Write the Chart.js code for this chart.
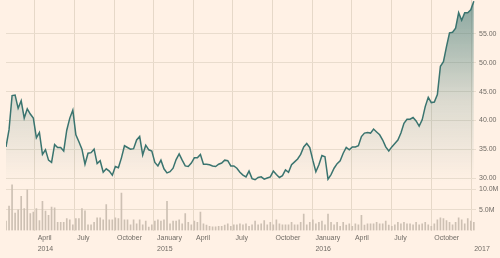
<!DOCTYPE html>
<html>
<head>
<meta charset="utf-8">
<script src="https://cdn.jsdelivr.net/npm/chart.js@4.4.1/dist/chart.umd.min.js"></script>
<style>
  html, body { margin: 0; padding: 0; background: #fff1e5; }
  canvas { display: block; }
</style>
</head>
<body>
<canvas id="chart" width="500" height="258"></canvas>
<script>
// weekly closing price, first week 25 Jan 2014
const firstWeek = Date.UTC(2014, 0, 25);
const prices = [
  35.4, 38.4, 44.3, 44.4, 42.1, 43.4, 40.4, 42.0, 41.1, 40.4,
  37.0, 37.9, 34.1, 34.9, 33.1, 32.7, 35.8, 35.3, 35.3, 34.7,
  38.3, 40.4, 41.8, 37.5, 36.3, 35.0, 32.4, 34.3, 34.4, 35.0,
  32.5, 33.0, 31.0, 31.6, 31.2, 30.5, 32.0, 31.8, 33.5, 35.6,
  35.3, 35.0, 35.1, 36.6, 37.2, 34.0, 35.7, 34.9, 34.7, 32.7,
  32.1, 33.1, 31.6, 30.9, 31.1, 31.7, 33.2, 34.2, 33.1, 32.1,
  32.0, 32.6, 33.5, 33.5, 34.1, 32.4, 32.4, 32.3, 32.1, 32.0,
  32.4, 32.6, 33.1, 33.0, 32.1, 32.1, 31.7, 31.0, 30.5, 30.2,
  31.2, 29.9, 29.7, 30.1, 30.2, 29.8, 30.0, 30.2, 31.2, 30.6,
  30.1, 30.4, 31.4, 31.0, 32.3, 32.8, 33.3, 34.1, 35.4, 36.0,
  35.3, 33.1, 31.1, 32.3, 33.9, 33.7, 29.8, 30.6, 31.7, 32.5,
  33.0, 34.3, 35.3, 34.9, 35.4, 35.4, 35.6, 37.2, 37.8, 37.9,
  37.8, 38.5, 38.0, 37.5, 36.6, 35.4, 34.7, 35.4, 36.0, 36.6,
  37.8, 39.5, 40.2, 40.2, 40.5, 39.9, 39.0, 40.1, 42.4, 44.0,
  43.1, 43.2, 44.5, 49.4, 50.2, 52.8, 55.2, 55.3, 56.0, 58.7,
  57.4, 58.7, 58.7, 59.2, 60.7
];
// weekly volume, millions
const volumes = [
  2.3, 5.9, 11.1, 4.2, 5.0, 8.3, 5.3, 9.9, 4.1, 4.5,
  5.3, 2.4, 7.1, 4.7, 3.7, 5.7, 5.5, 2.0, 2.0, 2.0,
  2.9, 2.6, 1.4, 2.9, 2.9, 5.3, 4.8, 1.4, 1.4, 2.0,
  3.1, 3.1, 2.6, 6.3, 2.6, 2.6, 3.1, 2.9, 9.1, 2.6,
  2.6, 1.4, 2.6, 1.6, 2.6, 1.4, 2.3, 0.8, 1.4, 2.3,
  2.6, 2.3, 2.6, 7.1, 1.6, 2.3, 2.3, 2.6, 1.6, 4.1,
  2.0, 1.4, 2.3, 2.0, 4.5, 1.6, 1.3, 1.0, 0.9, 0.9,
  1.0, 1.0, 1.3, 1.6, 1.0, 1.4, 1.4, 1.6, 1.4, 1.6,
  1.0, 1.4, 2.3, 1.4, 1.6, 2.4, 1.4, 2.0, 1.4, 2.6,
  1.6, 1.4, 1.4, 1.4, 2.0, 1.4, 1.4, 2.0, 4.0, 1.4,
  2.0, 2.6, 1.6, 2.0, 2.3, 1.4, 4.0, 2.0, 1.4, 2.0,
  1.0, 2.0, 1.3, 1.6, 1.0, 1.6, 1.4, 3.7, 1.3, 1.6,
  1.6, 1.6, 2.0, 1.6, 1.6, 2.3, 1.3, 1.0, 1.4, 2.0,
  1.6, 2.0, 1.6, 1.6, 1.4, 2.0, 1.4, 1.6, 2.0, 1.4,
  1.0, 1.6, 2.6, 3.1, 2.9, 2.4, 2.0, 1.4, 2.0, 3.1,
  2.6, 1.6, 2.9, 2.3, 2.0
];
const priceTicks = [30, 35, 40, 45, 50, 55];
const volumeTicks = [5, 10];
const monthNames = ['January', 'February', 'March', 'April', 'May', 'June',
  'July', 'August', 'September', 'October', 'November', 'December'];

const DAY = 86400000;
const xMin = firstWeek;
const xMax = firstWeek + 1083 * DAY;

// quarter starts shown on the axis
const quarterTicks = [];
for (let y = 2014; y <= 2017; y++) {
  for (let m = 0; m < 12; m += 3) {
    const t = Date.UTC(y, m, 1);
    if (t > xMin && t <= xMax) quarterTicks.push(t);
  }
}

const weekX = i => firstWeek + i * 7 * DAY;
const priceData = prices.map((p, i) => ({ x: weekX(i), y: p }));
const volumeData = volumes.map((v, i) => ({ x: weekX(i), y: v }));

const textColor = '#716c66';
const font = { family: 'Liberation Sans', size: 7, lineHeight: '11px' };
const hGrid = '#e9dccd';
const vGrid = '#e6d8c8';
const lineColor = '#3a746f';

function fillGradient(context) {
  const chart = context.chart;
  const area = chart.chartArea;
  if (!area) return 'rgba(58,116,111,0.2)';
  const g = chart.ctx.createLinearGradient(0, area.top, 0, chart.scales.yp.bottom);
  g.addColorStop(0, 'rgba(58,116,111,0.6)');
  g.addColorStop(0.55, 'rgba(58,116,111,0.18)');
  g.addColorStop(1, 'rgba(58,116,111,0.0)');
  return g;
}

// drop the half-label padding Chart.js reserves at the axis ends
const noPad = s => { s.paddingTop = 0; s.paddingBottom = 0; s.width = 24; };

const chart = new Chart(document.getElementById('chart'), {
  type: 'line',
  data: {
    datasets: [
      {
        type: 'line',
        data: priceData,
        yAxisID: 'yp',
        borderColor: lineColor,
        borderWidth: 1.5,
        pointRadius: 0,
        tension: 0,
        fill: 'start',
        backgroundColor: fillGradient
      },
      {
        type: 'bar',
        data: volumeData,
        yAxisID: 'yv',
        backgroundColor: '#cdc0b3',
        barThickness: 1
      }
    ]
  },
  options: {
    responsive: false,
    animation: false,
    devicePixelRatio: 1,
    layout: { padding: { left: 6, right: 0, top: 0, bottom: 0 } },
    plugins: { legend: { display: false }, tooltip: { enabled: false } },
    scales: {
      x: {
        type: 'linear',
        min: xMin,
        max: xMax,
        offset: false,
        afterBuildTicks: s => { s.ticks = quarterTicks.map(v => ({ value: v })); },
        afterFit: s => { s.paddingLeft = 0; s.paddingRight = 0; s.height = 27.5; },
        grid: { color: vGrid, drawTicks: false, offset: false },
        border: { display: false },
        ticks: {
          autoSkip: false,
          maxRotation: 0,
          align: 'start',
          labelOffset: 3,
          padding: 2,
          color: textColor,
          font: font,
          callback: v => {
            const d = new Date(v);
            const m = d.getUTCMonth();
            const y = d.getUTCFullYear();
            if (y === 2017) return ['', '2017'];
            if (m === 0 || v === quarterTicks[0]) return [monthNames[m], String(y)];
            return monthNames[m];
          }
        }
      },
      yp: {
        position: 'right',
        stack: 'panels',
        stackWeight: 182,
        min: 29.31,
        max: 60.9,
        afterBuildTicks: s => { s.ticks = priceTicks.map(v => ({ value: v })); },
        afterFit: noPad,
        grid: { color: hGrid, drawTicks: false },
        border: { display: false },
        ticks: { padding: 3, color: textColor, font: font, callback: v => v.toFixed(2) }
      },
      yv: {
        position: 'right',
        stack: 'panels',
        stackWeight: 48.5,
        min: 0,
        max: 11.77,
        afterBuildTicks: s => { s.ticks = volumeTicks.map(v => ({ value: v })); },
        afterFit: noPad,
        grid: { color: hGrid, drawTicks: false },
        border: { display: false },
        ticks: { padding: 3, color: textColor, font: font, callback: v => v.toFixed(1) + 'M' }
      }
    }
  }
});
</script>
</body>
</html>
